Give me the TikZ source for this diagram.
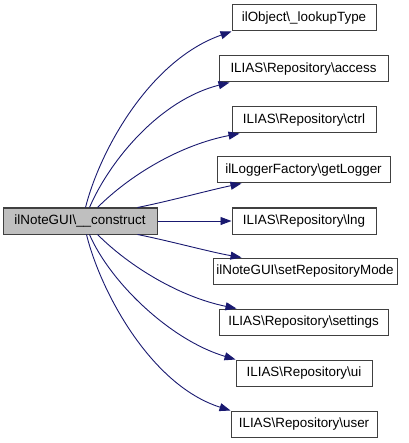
\documentclass[tikz,border=0pt]{standalone}
\usepackage{fontspec}
\setmainfont{Liberation Sans}
\usetikzlibrary{arrows.meta}
\definecolor{edgeblue}{HTML}{191970}
\definecolor{boxline}{HTML}{404040}
\definecolor{curfill}{HTML}{BFBFBF}
\begin{document}
\begin{tikzpicture}[x=1pt, y=-1pt,
  font=\fontsize{13.4}{15}\selectfont,
  fn/.style={draw=boxline, line width=1pt, minimum height=26pt, inner sep=0pt, fill=white},
  cur/.style={fn, fill=curfill},
  call/.style={draw=edgeblue, line width=0.9pt, -{Triangle[length=11pt,width=8pt]}, fill=none}]
  \useasboundingbox (0,0) rectangle (408,443);

  \node[cur, minimum width=154pt] (construct) at (80,221) {ilNoteGUI\textbackslash\_\_construct};

  \node[fn, minimum width=144pt] (lookup)   at (304,18)  {ilObject\textbackslash\_lookupType};
  \node[fn, minimum width=169pt] (access)   at (303.5,69)  {ILIAS\textbackslash Repository\textbackslash access};
  \node[fn, minimum width=144pt] (ctrl)     at (304,120) {ILIAS\textbackslash Repository\textbackslash ctrl};
  \node[fn, minimum width=173pt] (logger)   at (303.5,170) {ilLoggerFactory\textbackslash getLogger};
  \node[fn, minimum width=144pt] (lng)      at (304,221) {ILIAS\textbackslash Repository\textbackslash lng};
  \node[fn, minimum width=184pt] (repomode) at (305,271) {ilNoteGUI\textbackslash setRepositoryMode};
  \node[fn, minimum width=169pt] (settings) at (303.5,322) {ILIAS\textbackslash Repository\textbackslash settings};
  \node[fn, minimum width=136pt] (ui)       at (304,373) {ILIAS\textbackslash Repository\textbackslash ui};
  \node[fn, minimum width=146pt] (user)     at (304,424) {ILIAS\textbackslash Repository\textbackslash user};

  % calls going up
  \draw[call] ([xshift=83pt]construct.north west) .. controls (100,150) and (150,60) .. (lookup.south west);
  \draw[call] ([xshift=87pt]construct.north west) .. controls (110,160) and (160,100) .. ([xshift=11pt]access.south west);
  \draw[call] ([xshift=95pt]construct.north west) .. controls (130,175) and (180,145) .. ([xshift=8pt]ctrl.south west);
  \draw[call] ([xshift=135pt]construct.north west) .. controls (170,201) and (210,190) .. ([xshift=25pt]logger.south west);

  \draw[call] (construct.east) -- (lng.west);

  % calls going down
  \draw[call] ([xshift=135pt]construct.south west) .. controls (170,241) and (210,252) .. ([xshift=29pt]repomode.north west);
  \draw[call] ([xshift=95pt]construct.south west) .. controls (130,267) and (180,297) .. ([xshift=18pt]settings.north west);
  \draw[call] ([xshift=87pt]construct.south west) .. controls (110,282) and (170,340) .. (ui.north west);
  \draw[call] ([xshift=84pt]construct.south west) .. controls (100,290) and (150,385) .. (user.north west);

\end{tikzpicture}
\end{document}
